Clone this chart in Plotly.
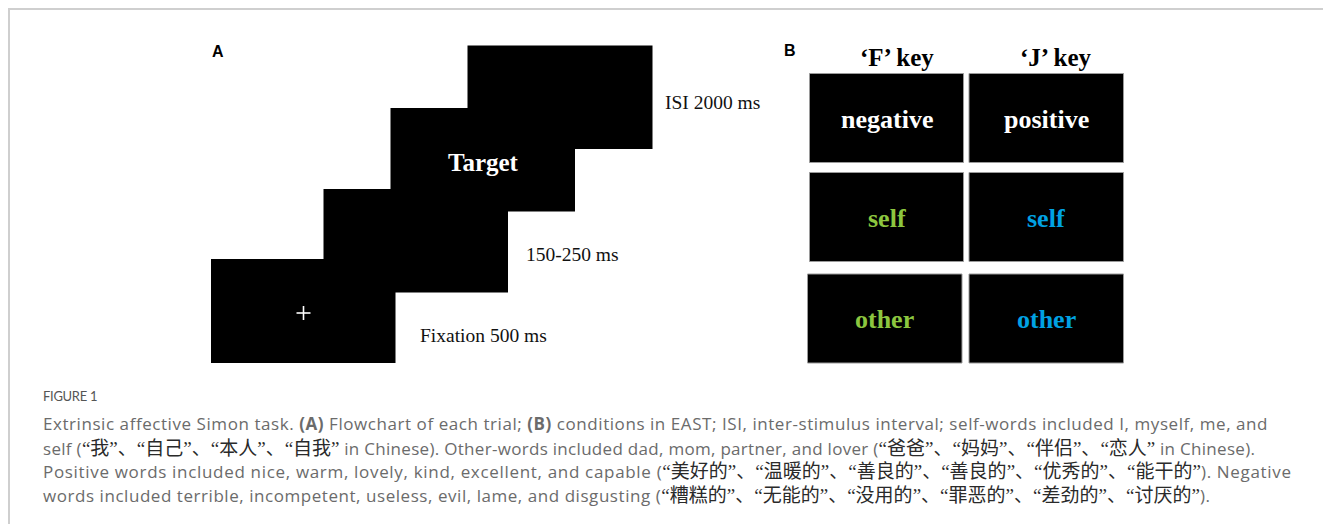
import plotly.graph_objects as go

# ---------------- content ----------------
panel_labels = ["A", "B"]
trial_screens = ["+", "", "Target", ""]          # fixation, blank, target, ISI
trial_durations = ["Fixation 500 ms", "150-250 ms", "ISI 2000 ms"]
key_labels = ["\u2018F\u2019 key", "\u2018J\u2019 key"]
key_words = [["negative", "positive"], ["self", "self"], ["other", "other"]]
word_colors = [["#ffffff", "#ffffff"], ["#8cc63f", "#00a2e3"], ["#8cc63f", "#00a2e3"]]
figure_title = "FIGURE 1"
caption_lines = [
    ["Extrinsic affective Simon task. <b>(A)</b> Flowchart of each trial; <b>(B)</b> conditions in EAST; ISI, inter-stimulus interval; self-words included I, myself, me, and"],
    ["self (", "\u201c我\u201d\u3001\u201c自己\u201d\u3001\u201c本人\u201d\u3001\u201c自我\u201d", " in Chinese). Other-words included dad, mom, partner, and lover (",
     "\u201c爸爸\u201d\u3001\u201c妈妈\u201d\u3001\u201c伴侣\u201d\u3001\u201c恋人\u201d", " in Chinese)."],
    ["Positive words included nice, warm, lovely, kind, excellent, and capable (",
     "\u201c美好的\u201d\u3001\u201c温暖的\u201d\u3001\u201c善良的\u201d\u3001\u201c善良的\u201d\u3001\u201c优秀的\u201d\u3001\u201c能干的\u201d", "). Negative"],
    ["words included terrible, incompetent, useless, evil, lame, and disgusting (",
     "\u201c糟糕的\u201d\u3001\u201c无能的\u201d\u3001\u201c没用的\u201d\u3001\u201c罪恶的\u201d\u3001\u201c差劲的\u201d\u3001\u201c讨厌的\u201d", ")."],
]

# ---------------- layout constants (page pixels) ----------------
W, H = 1331, 524
PAGE_OFF = 8  # default body margin of the html page
SERIF = "Liberation Serif, Times New Roman, serif"
SANS = "Open Sans, Lato, sans-serif"
CJK = "Noto Sans CJK SC, sans-serif"

stair_rects = [(467.5, 45.5, 652.5, 149), (390.5, 108, 575, 211.5),
               (323.5, 189, 508, 292.5), (211, 259, 395.5, 363)]
stair_text_pos = [(None, None), (483, 162), (None, None), (303.5, 313)]
dur_pos = [(418, 335), (524, 254), (663, 102)]

grid_cols = [(809.5, 963.5), (969, 1123.5)]
grid_rows = [(73.5, 162.5), (172.5, 261.5), (274, 363)]

CAP_X = 41
line_y = [423, 446, 469, 493]
line_spacing_px = [0.56, 0.3, 0.68, 0.55]

shapes = []
annotations = []

# outer frame (top and left lines)
shapes.append(dict(type="line", x0=8, x1=W, y0=9, y1=9, line=dict(color="#cfcfcf", width=2)))
shapes.append(dict(type="line", x0=9, x1=9, y0=8, y1=H, line=dict(color="#cfcfcf", width=2)))

# panel A screens
for (x0, y0, x1, y1) in stair_rects:
    shapes.append(dict(type="rect", x0=x0, x1=x1, y0=y0, y1=y1,
                       fillcolor="#000000", line=dict(width=0)))

screen_order = [3, 2, 1, 0]
for s_idx, txt in enumerate(trial_screens):
    if not txt:
        continue
    r = screen_order[s_idx]
    cx, cy = stair_text_pos[r]
    if txt == "+":
        shapes.append(dict(type="line", x0=cx - 7, x1=cx + 7, y0=cy, y1=cy, line=dict(color="white", width=1.6)))
        shapes.append(dict(type="line", x0=cx, x1=cx, y0=cy - 7, y1=cy + 7, line=dict(color="white", width=1.6)))
    else:
        annotations.append(dict(x=cx, y=cy, text="<b>%s</b>" % txt, showarrow=False,
                                xanchor="center", yanchor="middle",
                                font=dict(family=SERIF, size=25, color="white")))

for txt, (x, y) in zip(trial_durations, dur_pos):
    annotations.append(dict(x=x, y=y, text=txt, showarrow=False, xanchor="left", yanchor="middle",
                            font=dict(family=SERIF, size=19.5, color="#111111")))

# panel B grid
for ri, (y0, y1) in enumerate(grid_rows):
    for ci, (x0, x1) in enumerate(grid_cols):
        if ri == 2 and ci == 0:
            x0, x1 = x0 - 2, x1 - 1.5
        shapes.append(dict(type="rect", x0=x0, x1=x1, y0=y0, y1=y1,
                           fillcolor="#000000", line=dict(color="#9a9a9a", width=1)))
        annotations.append(dict(x=(x0 + x1) / 2, y=(y0 + y1) / 2 + 1, text="<b>%s</b>" % key_words[ri][ci],
                                showarrow=False, xanchor="center", yanchor="middle",
                                font=dict(family=SERIF, size=26, color=word_colors[ri][ci])))

for ci, (x0, x1) in enumerate(grid_cols):
    annotations.append(dict(x=(x0 + x1) / 2 + 10, y=57, text="<b>%s</b>" % key_labels[ci], showarrow=False,
                            xanchor="center", yanchor="middle",
                            font=dict(family=SERIF, size=25, color="#000000")))

for lab, (x, y) in zip(panel_labels, [(218, 51), (790, 50)]):
    annotations.append(dict(x=x, y=y, text="<b>%s</b>" % lab, showarrow=False, xanchor="center", yanchor="middle",
                            font=dict(family="Liberation Sans, Arial, sans-serif", size=16, color="#000000")))

# caption
annotations.append(dict(x=CAP_X, y=396,
                        text='<span style="letter-spacing:-0.3px">%s</span>' % figure_title,
                        showarrow=False, xanchor="left", yanchor="middle",
                        font=dict(family="Lato, sans-serif", size=13, color="#555555")))


def zh_html(s):
    out = ""
    for ch in s:
        if ch in "\u201c\u201d":
            out += '<span style="font-family:%s;font-size:19px;color:#2a2a2a">%s</span>' % (SERIF, ch)
        else:
            out += '<span style="font-family:%s;font-size:19px;color:#2a2a2a">%s</span>' % (CJK, ch)
    return out


for parts, y, ls in zip(caption_lines, line_y, line_spacing_px):
    html = ""
    for k, p in enumerate(parts):
        if k % 2 == 1:
            html += zh_html(p)
        else:
            html += '<span style="letter-spacing:%spx">%s</span>' % (ls, p)
    annotations.append(dict(x=CAP_X, y=y, text=html, showarrow=False, xanchor="left", yanchor="middle",
                            font=dict(family=SANS, size=17, color="#6b6b6b")))

fig = go.Figure()
fig.update_layout(
    width=W - PAGE_OFF, height=H - PAGE_OFF, margin=dict(l=0, r=0, t=0, b=0),
    paper_bgcolor="white", plot_bgcolor="white",
    xaxis=dict(range=[PAGE_OFF, W], visible=False, fixedrange=True),
    yaxis=dict(range=[H, PAGE_OFF], visible=False, fixedrange=True),
    shapes=shapes, annotations=annotations, showlegend=False,
)
fig.write_html("out.html")
